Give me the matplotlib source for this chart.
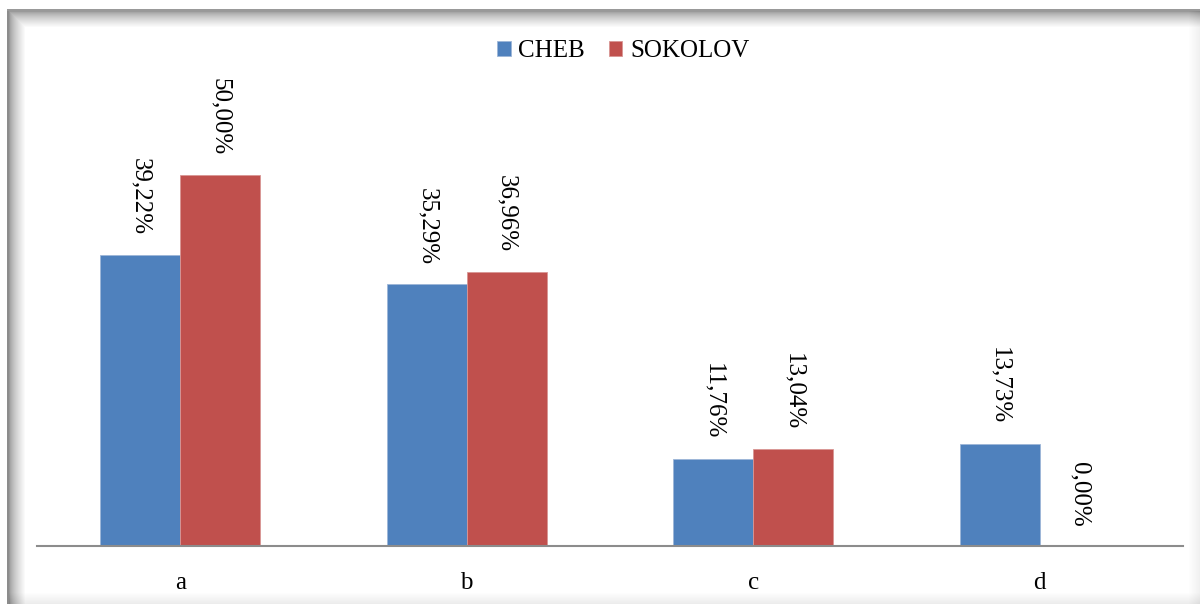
import numpy as np
import matplotlib.pyplot as plt

plt.rcParams['font.family'] = ['Liberation Serif', 'DejaVu Serif']

# Survey shares per answer, in percent
categories = ['a', 'b', 'c', 'd']
cheb = [39.22, 35.29, 11.76, 13.73]
sokolov = [50.00, 36.96, 13.04, 0.00]
series_names = ['CHEB', 'SOKOLOV']

W, H = 1200, 604
fig = plt.figure(figsize=(W / 100, H / 100), dpi=100)

# Framed background with a soft inner shadow along the top and left edges
xx = np.arange(W)[None, :] * np.ones((H, 1))
yy = np.arange(H)[:, None] * np.ones((1, W))
left = np.clip((xx - 9) / 16, 0, 1) ** 0.7
top = np.clip((yy - 11) / 16, 0, 1) ** 0.7
right = np.clip((1200 - xx) / 12, 0, 1)
bottom = np.clip((604 - yy) / 12, 0, 1)
shade = np.minimum(0.6 + 0.4 * left, 0.6 + 0.4 * top)
shade = shade - 0.06 * (1 - right) - 0.08 * (1 - bottom)
bg = np.clip(shade, 0.5, 1)
bg[:, :7] = 1
bg[:9, :] = 1
bg[9:, 7:9] = 0.55
bg[9:11, 7:] = 0.6
fig.figimage(np.dstack([bg, bg, bg]), xo=0, yo=0, origin='upper', zorder=-10)

ax = fig.add_axes([37 / W, 1 - 546 / H, (1183 - 37) / W, (546 - 80) / H])
ax.patch.set_alpha(0)

x = np.arange(len(categories))
bw = 80 / 287
b1 = ax.bar(x - bw / 2, cheb, bw, color='#4F81BD', edgecolor='#9DB6D8', linewidth=0.6,
            label=series_names[0])
b2 = ax.bar(x + bw / 2, sokolov, bw, color='#C0504D', edgecolor='#D99694', linewidth=0.6,
            label=series_names[1])

for bars, vals in ((b1, cheb), (b2, sokolov)):
    for rect, v in zip(bars, vals):
        ax.annotate(f'{v:.2f}%'.replace('.', ','),
                    (rect.get_x() + rect.get_width() / 2, v),
                    xytext=(0, 14), textcoords='offset points',
                    rotation=-90, ha='center', va='bottom', fontsize=18)

ax.set_xlim(-0.5, 3.5)
ax.set_ylim(0, 466 / 7.42)
ax.set_xticks(x)
ax.set_xticklabels(categories, fontsize=18)
ax.tick_params(axis='x', length=0, pad=19)
ax.set_yticks([])
for side in ('top', 'right', 'left'):
    ax.spines[side].set_visible(False)
ax.spines['bottom'].set_color('#8C8C8C')
ax.spines['bottom'].set_linewidth(1.5)

fig.legend(handles=[b1, b2], loc='center', bbox_to_anchor=(623 / W, 1 - 51 / H),
           ncol=2, frameon=False, fontsize=18, handlelength=0.55, handleheight=0.55,
           handletextpad=0.3, columnspacing=0.95)

fig.savefig('out.png', dpi=100)
